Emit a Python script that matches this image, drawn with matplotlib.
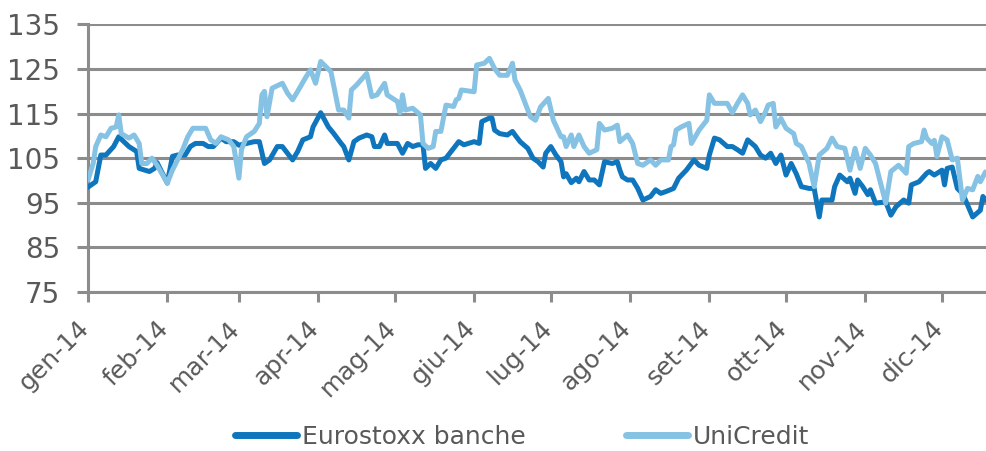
import matplotlib
matplotlib.use("Agg")
import matplotlib.pyplot as plt
import matplotlib.transforms as mtransforms
import pandas as pd

plt.rcParams['font.family'] = ['DejaVu Sans']

# giorni dal 1 gennaio 2014 e valori (base 100)
euro_days = [0, 3, 5, 7, 10, 12, 16, 19, 20, 24, 26, 27, 31, 33, 35, 38, 40, 42, 45, 47,
             49, 52, 54, 57, 59, 62, 65, 67, 69, 71, 74, 76, 78, 80, 82, 84, 87, 88, 91, 94,
             96, 99, 100, 102, 104, 106, 109, 111, 112, 114, 116, 117, 121, 123, 125, 127, 129, 131, 132, 134,
             136, 138, 140, 143, 145, 147, 151, 153, 154, 157, 158, 159, 161, 164, 166, 167, 169, 172, 174, 176,
             178, 179, 181, 183, 185, 186, 187, 189, 191, 192, 194, 196, 198, 200, 202, 205, 207, 208, 209, 211,
             213, 215, 217, 220, 222, 224, 226, 229, 231, 234, 237, 239, 242, 243, 245, 247, 250, 252, 254, 256,
             258, 261, 263, 265, 267, 269, 271, 273, 275, 277, 279, 282, 284, 286, 287, 291, 292, 294, 297, 298,
             300, 301, 303, 305, 306, 308, 312, 314, 316, 319, 321, 322, 325, 328, 329, 331, 334, 335, 336, 338,
             340, 342, 344, 346, 349, 350, 351]
euro_vals = [98.5, 99.7, 105.7, 105.7, 107.6, 109.8, 107.6, 106.5, 102.7, 102.0, 102.7, 104.0, 99.4, 105.4, 105.7, 105.7, 107.6, 108.3, 108.3, 107.6,
             107.6, 109.5, 108.7, 108.7, 107.9, 108.3, 108.7, 108.7, 103.8, 104.6, 107.6, 107.6, 106.1, 104.6, 106.5, 109.1, 109.8, 112.0, 115.2, 112.0,
             110.6, 108.3, 107.6, 104.6, 108.7, 109.5, 110.2, 109.8, 107.6, 107.6, 110.2, 108.3, 108.3, 106.1, 108.3, 107.6, 108.0, 108.0, 102.7, 103.8,
             102.7, 104.6, 105.0, 107.2, 108.7, 108.0, 108.7, 108.3, 113.2, 114.0, 114.0, 111.3, 110.5, 110.2, 111.0, 110.2, 108.7, 107.2, 105.0, 104.2,
             103.0, 106.1, 107.6, 105.7, 104.2, 100.8, 101.5, 99.5, 100.5, 99.7, 102.0, 100.1, 100.1, 99.0, 104.2, 103.8, 104.2, 102.3, 100.8, 100.1,
             100.1, 98.2, 95.6, 96.4, 97.9, 97.1, 97.5, 98.2, 100.5, 102.3, 104.6, 103.4, 102.7, 105.7, 109.5, 109.1, 107.6, 107.6, 106.9, 106.1,
             109.1, 107.6, 105.7, 105.0, 106.1, 103.8, 105.7, 101.2, 103.8, 101.5, 98.6, 98.2, 98.2, 91.8, 95.6, 95.6, 98.6, 101.2, 99.7, 100.5,
             97.1, 100.1, 98.6, 96.8, 97.9, 94.9, 95.2, 92.2, 94.1, 95.6, 94.9, 99.0, 99.7, 101.6, 102.0, 101.2, 102.3, 99.0, 102.7, 103.0,
             98.2, 97.1, 94.5, 91.8, 93.3, 96.4, 95.6]

uc_days = [0, 2, 3, 5, 7, 9, 11, 12, 13, 16, 18, 20, 21, 23, 25, 27, 31, 33, 37, 39,
           41, 46, 48, 50, 52, 55, 57, 59, 60, 62, 65, 67, 68, 69, 70, 72, 76, 78, 80, 82,
           85, 87, 89, 91, 95, 98, 100, 102, 103, 105, 109, 111, 113, 116, 117, 121, 122, 123, 124, 127,
           130, 131, 133, 135, 136, 138, 140, 143, 144, 145, 146, 151, 152, 155, 157, 159, 161, 164, 166, 167,
           169, 173, 175, 177, 180, 182, 185, 186, 187, 189, 190, 192, 194, 196, 199, 200, 202, 205, 207, 208,
           211, 213, 215, 217, 220, 222, 224, 227, 228, 229, 230, 232, 235, 236, 239, 242, 243, 245, 250, 252,
           254, 256, 258, 259, 261, 263, 265, 266, 268, 269, 271, 273, 276, 277, 279, 282, 284, 286, 289, 291,
           293, 296, 298, 300, 302, 304, 306, 308, 312, 314, 317, 320, 321, 323, 326, 327, 328, 330, 331, 332,
           334, 336, 338, 340, 342, 344, 346, 348, 349, 351]
uc_vals = [100.1, 103.8, 107.6, 110.2, 109.8, 111.7, 112.0, 114.7, 110.5, 109.5, 110.2, 108.3, 103.8, 103.8, 105.0, 103.4, 99.4, 102.3, 106.9, 109.8,
           111.7, 111.7, 109.1, 108.3, 109.8, 109.1, 107.6, 100.5, 106.9, 109.8, 111.0, 112.8, 119.2, 120.0, 114.3, 120.7, 121.8, 119.6, 118.1, 120.0,
           123.0, 124.8, 121.8, 126.7, 124.4, 115.8, 115.8, 114.0, 120.3, 121.4, 124.0, 118.8, 119.2, 121.8, 119.2, 117.7, 115.2, 119.2, 115.8, 116.2,
           114.7, 108.3, 107.2, 107.6, 111.0, 111.0, 116.9, 116.6, 118.1, 118.4, 120.3, 119.9, 125.9, 126.3, 127.4, 125.1, 123.6, 123.6, 126.3, 122.5,
           120.3, 114.3, 113.5, 116.5, 118.4, 113.5, 109.8, 109.8, 107.6, 110.2, 107.6, 110.2, 107.6, 106.1, 106.9, 112.8, 111.3, 111.7, 112.4, 108.7,
           110.2, 108.3, 103.8, 103.4, 104.6, 103.4, 104.6, 104.6, 107.6, 108.0, 111.3, 112.0, 112.8, 108.3, 111.3, 113.5, 119.2, 117.3, 117.3, 115.2,
           117.3, 119.2, 117.3, 114.7, 115.8, 113.2, 115.4, 116.9, 117.3, 112.0, 113.9, 111.7, 110.5, 108.3, 107.6, 103.8, 98.6, 105.7, 107.2, 109.5,
           107.6, 107.2, 102.3, 107.2, 102.7, 107.2, 105.7, 103.8, 94.9, 102.0, 103.4, 101.6, 107.6, 108.3, 108.7, 111.3, 109.5, 108.3, 109.0, 105.4,
           109.8, 109.1, 104.6, 105.0, 95.6, 98.2, 97.9, 100.9, 99.7, 101.9]

month_labels = ['gen-14', 'feb-14', 'mar-14', 'apr-14', 'mag-14', 'giu-14',
                'lug-14', 'ago-14', 'set-14', 'ott-14', 'nov-14', 'dic-14']

start = pd.Timestamp('2014-01-01')
euro_dates = start + pd.to_timedelta(euro_days, unit='D')
uc_dates = start + pd.to_timedelta(uc_days, unit='D')
month_ticks = pd.date_range('2014-01-01', periods=12, freq='MS')

grey = '#8c8c8c'
text_grey = '#595959'

fig = plt.figure(figsize=(9.87, 4.51), dpi=100)
ax = fig.add_axes([0.0892, 0.353, 0.9108, 0.5927])

ax.plot(euro_dates, euro_vals, color='#0f76bd', lw=3.6, label='Eurostoxx banche',
        solid_joinstyle='round', solid_capstyle='round', zorder=3)
ax.plot(uc_dates, uc_vals, color='#86c2e3', lw=3.6, label='UniCredit',
        solid_joinstyle='round', solid_capstyle='round', zorder=3)

ax.set_ylim(75, 135)
ax.set_yticks(range(75, 136, 10))
ax.set_xlim(start, start + pd.Timedelta(days=351.6))
ax.set_xticks(month_ticks)
ax.set_xticklabels(month_labels, rotation=45, ha='right')

ax.grid(axis='y', color=grey, lw=2.2, zorder=1)
ax.set_axisbelow(True)
for side in ['top', 'right']:
    ax.spines[side].set_visible(False)
for side in ['left', 'bottom']:
    ax.spines[side].set_color(grey)
    ax.spines[side].set_linewidth(2.2)

ax.tick_params(axis='y', length=8, width=2.2, color=grey, labelsize=20, labelcolor=text_grey, pad=12)
ax.tick_params(axis='x', length=7.5, width=2.2, color=grey, labelsize=18, labelcolor=text_grey, pad=10)

offset = mtransforms.ScaledTranslation(6 / 100, 0, fig.dpi_scale_trans)
for lab in ax.get_xticklabels():
    lab.set_transform(lab.get_transform() + offset)

leg = fig.legend(loc='center', bbox_to_anchor=(0.529, 0.031), ncol=2, frameon=False,
                 fontsize=18, handlelength=2.5, handletextpad=0.2, columnspacing=4.0)
for t in leg.get_texts():
    t.set_color(text_grey)
for h in leg.get_lines():
    h.set_linewidth(5)

fig.savefig('out.png', dpi=100)
